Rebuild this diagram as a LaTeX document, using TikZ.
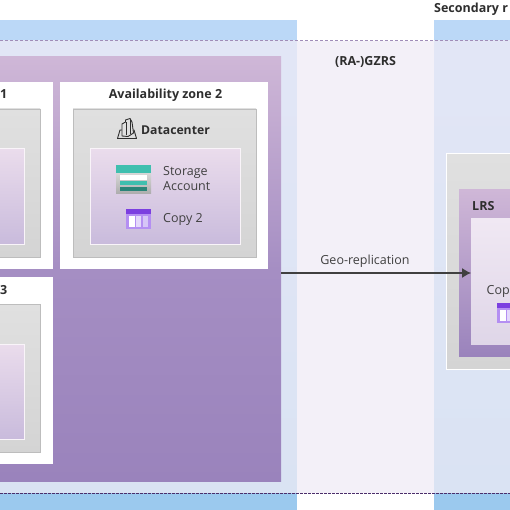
\documentclass[tikz,border=0pt]{standalone}
\usepackage{fontspec}
\setmainfont{Open Sans}
\usetikzlibrary{arrows.meta}
\definecolor{bandtop}{HTML}{BBD8F7}
\definecolor{bandbot}{HTML}{9BC9EE}
\definecolor{regtop}{HTML}{E2E6F6}
\definecolor{regbot}{HTML}{DAE3F3}
\definecolor{midbg}{HTML}{F3F0F8}
\definecolor{purtop}{HTML}{CFB7D7}
\definecolor{purmid}{HTML}{A58EC3}
\definecolor{purbot}{HTML}{9A83BC}
\definecolor{inntop}{HTML}{EADCEC}
\definecolor{innbot}{HTML}{C9BBDC}
\definecolor{inrtop}{HTML}{F0E8F3}
\definecolor{inrbot}{HTML}{DFD6E8}
\definecolor{dctop}{HTML}{E0E0E0}
\definecolor{dcbot}{HTML}{D4D4D4}
\definecolor{dcline}{HTML}{BDBDBD}
\definecolor{txt}{HTML}{2E2E2E}
\definecolor{txtl}{HTML}{404040}
\definecolor{teal1}{HTML}{3FBFAF}
\definecolor{teal2}{HTML}{2A8478}
\definecolor{vio1}{HTML}{7B3FE0}
\definecolor{vio2}{HTML}{B48FF2}
\definecolor{vio3}{HTML}{E4D8FB}
\definecolor{vio4}{HTML}{D6C6F7}
\definecolor{dashtop}{HTML}{A08DB8}
\definecolor{dashbot}{HTML}{4B2E6B}
\tikzset{
  regionbody/.style={top color=regtop,bottom color=regbot,draw=none},
  midbody/.style={fill=midbg,draw=none},
  tband/.style={fill=bandtop,draw=none},
  bband/.style={fill=bandbot,draw=none},
  purplebox/.style={top color=purtop,bottom color=purbot,middle color=purmid,draw=none},
  lrsbox/.style={top color=purtop,bottom color=purbot,draw=none},
  zonebox/.style={fill=white,draw=none},
  dcbox/.style={top color=dctop,bottom color=dcbot,draw=dcline,line width=.8pt},
  dcrbox/.style={top color=dctop,bottom color=dcbot,draw=white,line width=.8pt},
  innerbox/.style={top color=inntop,bottom color=innbot,draw=white!70!inntop,line width=1pt},
  innerr/.style={top color=inrtop,bottom color=inrbot,draw=none},
  boldlab/.style={font=\bfseries\fontsize{12.5}{14}\selectfont,text=txt,inner sep=0pt},
  lab/.style={font=\fontsize{12.5}{15}\selectfont,text=txtl,inner sep=0pt},
  conn/.style={draw=txtl,line width=1.1pt,-{Latex[length=9pt,width=10pt]}},
}
\newcommand{\pbox}[6]{%
  \pgfmathsetmacro{\pw}{#5-#3}\pgfmathsetmacro{\ph}{#6-#4}%
  \node[#2,anchor=north west,inner sep=0pt,outer sep=0pt,minimum width=\pw pt,minimum height=\ph pt] (#1) at (#3,#4) {};}
\newcommand{\copyicon}[2]{%
  \fill[vio2] (#1,#2) rectangle ++(25,20);
  \fill[vio1] (#1,#2) rectangle ++(25,5);
  \fill[white] (#1+3,#2+7) rectangle ++(6,11);
  \fill[vio3] (#1+10,#2+7) rectangle ++(5,11);
  \fill[vio4] (#1+17,#2+7) rectangle ++(5,11);}
\begin{document}
\begin{tikzpicture}[x=1pt,y=-1pt]
\useasboundingbox (0,0) rectangle (510,510);
\clip (0,0) rectangle (510,510);
\fill[white] (0,0) rectangle (510,510);
% regions
\pbox{lt}{tband}{-4}{20}{297}{41}
\pbox{lb}{regionbody}{-4}{41}{297}{493}
\pbox{lf}{bband}{-4}{493}{297}{514}
\pbox{mb}{midbody}{297}{41}{434}{493}
\pbox{rt}{tband}{434}{20}{514}{41}
\pbox{rb}{regionbody}{434}{41}{514}{493}
\pbox{rf}{bband}{434}{493}{514}{514}
\draw[dashtop,line width=1pt,dash pattern=on 2.5pt off 2.5pt] (0,41) -- (510,41);
\draw[dashbot,line width=.6pt,dash pattern=on 2.5pt off 1.5pt] (0,493) -- (510,493);
% primary region
\pbox{pur}{purplebox}{-4}{57}{281}{481}
\pbox{z1}{zonebox}{-4}{82}{53}{269}
\pbox{z2}{zonebox}{60}{82}{268}{269}
\pbox{z3}{zonebox}{-4}{277}{53}{464}
\pbox{d1}{dcbox}{-4}{109}{40}{257}
\pbox{d2}{dcbox}{73}{109}{256}{257}
\pbox{d3}{dcbox}{-4}{304}{40}{452}
\pbox{i1}{innerbox}{-4}{149}{24.5}{244}
\pbox{i2}{innerbox}{90.5}{149}{240}{244}
\pbox{i3}{innerbox}{-4}{344}{24.5}{439}
\node[boldlab,anchor=base east] (t1) at (7.5,99) {1};
\node[boldlab,anchor=base] (t2) at (165.5,99) {Availability zone 2};
\node[boldlab,anchor=base east] (t3) at (7.5,294) {3};
% datacenter icon
\begin{scope}[draw=txt,line width=.9pt,line join=round]
  \draw (117.5,138.5) -- (120,130) -- (134,130) -- (136.5,138.5) -- cycle;
  \draw[fill=dctop] (122,136) -- (122,124) -- (125.5,122) -- (125.5,120) -- (130,118.5) -- (132,122) -- (133.5,133) -- (128,136.5) -- cycle;
  \draw (126,122) -- (126,135) (130,119) -- (130,134);
\end{scope}
\node[boldlab,anchor=base west,font=\bfseries\fontsize{12.2}{14}\selectfont] (dc) at (141,134.5) {Datacenter};
% storage icon
\shade[top color=white!85!black,bottom color=black!32] (116,172) rectangle (151,193.5);
\fill[teal1] (116,165) rectangle (151,173);
\fill[white] (120,175) rectangle (147,180);
\fill[teal1] (120,181) rectangle (147,185);
\fill[teal2] (120,187) rectangle (147,191);
\node[lab,anchor=base west] (sa1) at (163,175.5) {Storage};
\node[lab,anchor=base west] (sa2) at (163,190.5) {Account};
\copyicon{126}{209}
\node[lab,anchor=base west] (cp) at (163,222.5) {Copy 2};
% secondary region
\pbox{g}{dcrbox}{446.5}{153.5}{514}{369}
\pbox{lrs}{lrsbox}{459}{190}{514}{356}
\pbox{ir}{innerr}{471}{219}{514}{344}
\node[boldlab,anchor=base west] (lrst) at (472,211) {LRS};
\node[lab,anchor=base west] (cp1) at (486.5,294.5) {Cop};
\copyicon{497}{303}
% labels
\node[boldlab,anchor=base] (ra) at (365.5,66) {(RA-)GZRS};
\node[boldlab,anchor=base west] (sec) at (434,12.5) {Secondary r};
\node[lab,anchor=base] (geo) at (365,264) {Geo-replication};
\coordinate (arrs) at (pur.east |- 0,273);
\coordinate (arre) at (ir.west |- 0,273);
\draw[conn] (arrs) -- (arre);
\end{tikzpicture}
\end{document}
